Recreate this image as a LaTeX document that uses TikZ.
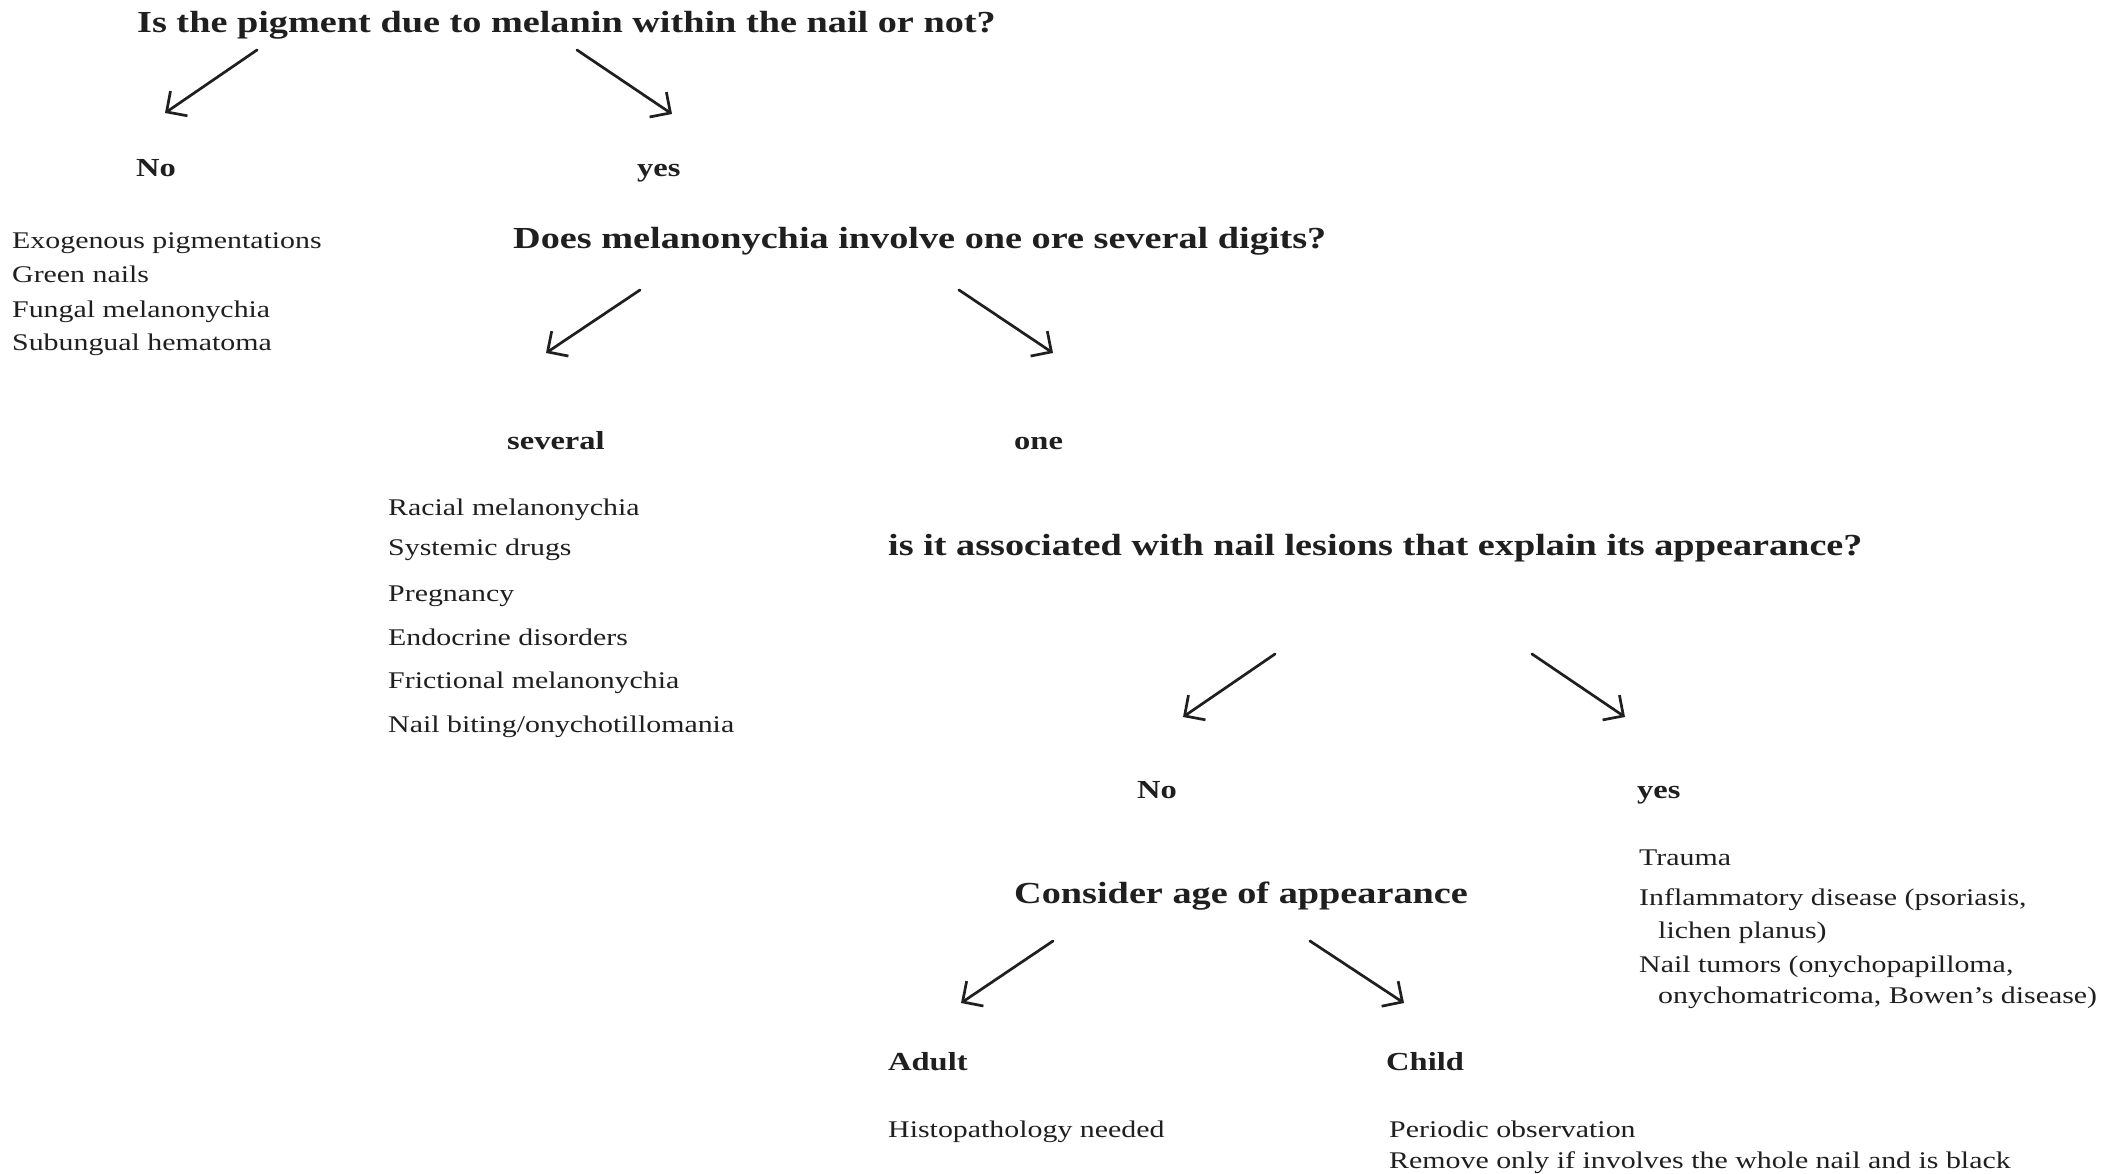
\documentclass[tikz,border=0pt]{standalone}
\usepackage{fontspec}
\setmainfont{Liberation Serif}[FakeStretch=1.25]
\usetikzlibrary{arrows.meta}
\definecolor{ink}{gray}{0.12}
\begin{document}
\begin{tikzpicture}[x=1pt,y=-1pt,
  every node/.style={text=ink},
  head/.style={anchor=base west, inner sep=0pt, font=\bfseries\fontsize{30.6}{36}\selectfont},
  lab/.style={anchor=base west, inner sep=0pt, font=\bfseries\fontsize{26}{31}\selectfont},
  item/.style={anchor=base west, inner sep=0pt, font=\fontsize{23.9}{29}\selectfont},
  arr/.style={draw=ink, line width=2.7pt, line cap=round,
    -{Straight Barb[length=15pt,width=30pt,line width=2.7pt]}}]
\useasboundingbox (0,0) rectangle (2108,1174);
\fill[white] (0,0) rectangle (2108,1174);

% level 1
\node[head] (q1) at (137,33) {Is the pigment due to melanin within the nail or not?};
\node[lab] (no1) at (136,177) {No};
\node[lab] (yes1) at (637,177) {yes};
\coordinate (a1s) at (257,50); \coordinate (a1e) at (165,113);
\coordinate (a2s) at (577,50); \coordinate (a2e) at (672,114);
\draw[arr] (a1s) -- (a1e);
\draw[arr] (a2s) -- (a2e);

\node[item] (ex1) at (12,248) {Exogenous pigmentations};
\node[item] (ex2) at (12,283) {Green nails};
\node[item] (ex3) at (12,317) {Fungal melanonychia};
\node[item] (ex4) at (12,350) {Subungual hematoma};

% level 2
\node[head] (q2) at (513,249) {Does melanonychia involve one ore several digits?};
\coordinate (b1s) at (640,290); \coordinate (b1e) at (546,353);
\coordinate (b2s) at (959,290); \coordinate (b2e) at (1053,353);
\draw[arr] (b1s) -- (b1e);
\draw[arr] (b2s) -- (b2e);
\node[lab] (sev) at (507,449) {several};
\node[lab] (one) at (1014,449) {one};

\node[item] (s1) at (388,515) {Racial melanonychia};
\node[item] (s2) at (388,555) {Systemic drugs};
\node[item] (s3) at (388,601) {Pregnancy};
\node[item] (s4) at (388,645) {Endocrine disorders};
\node[item] (s5) at (388,688) {Frictional melanonychia};
\node[item] (s6) at (388,732) {Nail biting/onychotillomania};

% level 3
\node[head] (q3) at (888,555) {is it associated with nail lesions that explain its appearance?};
\coordinate (c1s) at (1275,654); \coordinate (c1e) at (1183,717);
\coordinate (c2s) at (1532,654); \coordinate (c2e) at (1625,717);
\draw[arr] (c1s) -- (c1e);
\draw[arr] (c2s) -- (c2e);
\node[lab] (no3) at (1137,798) {No};
\node[lab] (yes3) at (1637,798) {yes};

\node[item] (y1) at (1639,865) {Trauma};
\node[item] (y2) at (1639,905) {Inflammatory disease (psoriasis,};
\node[item] (y3) at (1658,938) {lichen planus)};
\node[item] (y4) at (1639,972) {Nail tumors (onychopapilloma,};
\node[item] (y5) at (1658,1003) {onychomatricoma, Bowen’s disease)};

% level 4
\node[head] (q4) at (1014,903) {Consider age of appearance};
\coordinate (d1s) at (1053,941); \coordinate (d1e) at (961,1003);
\coordinate (d2s) at (1310,941); \coordinate (d2e) at (1404,1003);
\draw[arr] (d1s) -- (d1e);
\draw[arr] (d2s) -- (d2e);
\node[lab] (adult) at (888,1070) {Adult};
\node[lab] (child) at (1386,1070) {Child};

\node[item] (h1) at (888,1137) {Histopathology needed};
\node[item] (p1) at (1389,1137) {Periodic observation};
\node[item] (p2) at (1389,1168) {Remove only if involves the whole nail and is black};
\end{tikzpicture}
\end{document}
